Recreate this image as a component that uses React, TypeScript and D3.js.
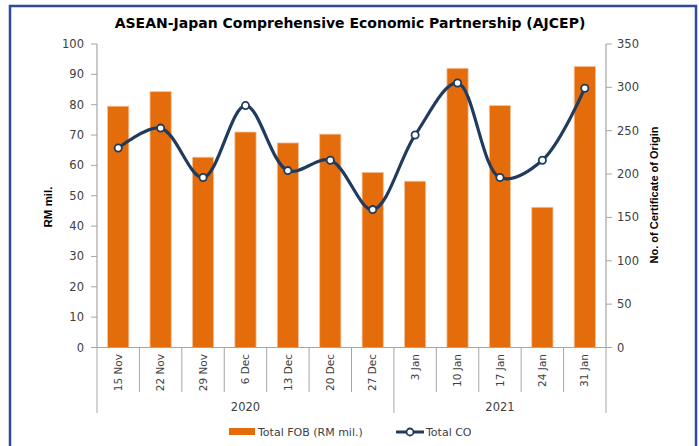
import React from "react";
import * as d3 from "d3";

const categories = ["15 Nov", "22 Nov", "29 Nov", "6 Dec", "13 Dec", "20 Dec", "27 Dec", "3 Jan", "10 Jan", "17 Jan", "24 Jan", "31 Jan"];
const fobValues = [79.5, 84.3, 62.7, 71.0, 67.4, 70.3, 57.7, 54.8, 92.0, 79.7, 46.2, 92.6];
const coValues = [230, 253, 196, 279, 204, 216, 159, 245, 305, 196, 216, 299];
const years = [
  { label: "2020", from: 0, to: 7 },
  { label: "2021", from: 7, to: 12 },
];
const leftTicks = [0, 10, 20, 30, 40, 50, 60, 70, 80, 90, 100];
const rightTicks = [0, 50, 100, 150, 200, 250, 300, 350];

const W = 699;
const H = 446;
const FONT = "'DejaVu Sans', sans-serif";
const TITLE_FONT = "'Liberation Sans', Arial, sans-serif";

export default function App() {
  const left = 97;
  const right = 606;
  const top = 44;
  const bottom = 347.5;

  const x = d3.scaleBand<string>().domain(categories).range([left, right]).paddingInner(0.5).paddingOuter(0.25);
  const step = x.step();
  const yL = d3.scaleLinear().domain([0, 100]).range([bottom, top]);
  const yR = d3.scaleLinear().domain([0, 350]).range([bottom, top]);
  const cx = (c: string) => (x(c) as number) + x.bandwidth() / 2;

  const line = d3
    .line<number>()
    .x((_, i) => cx(categories[i]))
    .y((d) => yR(d))
    .curve(d3.curveCatmullRom.alpha(0.5));

  const axisColor = "#A6A6A6";
  const textColor = "#404040";
  const navy = "#1F3B5E";
  const orange = "#E46C0A";

  const boundary = (i: number) => left + step * i;

  return (
    <svg width={W} height={H} style={{ position: "absolute", left: 0, top: 0, background: "#fff" }} fontFamily={FONT}>
      <rect x={0} y={0} width={W} height={H} fill="#fff" />
      <rect x={10} y={6} width={686} height={460} fill="none" stroke="#2F4A9C" strokeWidth={2.5} />
      <text x={350} y={28} textAnchor="middle" fontSize={14} fontWeight="bold" fill="#000">
        ASEAN-Japan Comprehensive Economic Partnership (AJCEP)
      </text>

      {/* bars */}
      {categories.map((c, i) => (
        <rect
          key={c}
          x={x(c)}
          y={yL(fobValues[i])}
          width={x.bandwidth()}
          height={bottom - yL(fobValues[i])}
          fill={orange}
          stroke="#F6C29B"
          strokeWidth={0.8}
        />
      ))}

      {/* left axis */}
      <line x1={left} x2={left} y1={top} y2={bottom} stroke={axisColor} strokeWidth={1.2} />
      {leftTicks.map((t) => (
        <g key={t}>
          <line x1={left - 6} x2={left} y1={yL(t)} y2={yL(t)} stroke={axisColor} strokeWidth={1} />
          <text x={84} y={yL(t)} dy="0.35em" textAnchor="end" fontSize={11.5} fill={textColor}>
            {t}
          </text>
        </g>
      ))}
      {/* right axis */}
      <line x1={right} x2={right} y1={top} y2={bottom} stroke={axisColor} strokeWidth={1.2} />
      {rightTicks.map((t) => (
        <g key={t}>
          <line x1={right} x2={right + 6} y1={yR(t)} y2={yR(t)} stroke={axisColor} strokeWidth={1} />
          <text x={617} y={yR(t)} dy="0.35em" textAnchor="start" fontSize={11.5} fill={textColor}>
            {t}
          </text>
        </g>
      ))}

      {/* category axis */}
      <line x1={left - 6} x2={right + 6} y1={bottom} y2={bottom} stroke={axisColor} strokeWidth={1.2} />
      {d3.range(1, 12).map((i) =>
        i === 7 ? null : (
          <line key={i} x1={boundary(i)} x2={boundary(i)} y1={bottom} y2={392} stroke={axisColor} strokeWidth={1} />
        )
      )}
      {[0, 7, 12].map((i) => (
        <line key={"g" + i} x1={boundary(i)} x2={boundary(i)} y1={bottom} y2={413} stroke={axisColor} strokeWidth={1} />
      ))}
      {categories.map((c) => (
        <text
          key={"l" + c}
          transform={`translate(${cx(c)},354) rotate(-90)`}
          textAnchor="end"
          dy="0.35em"
          fontSize={10.5}
          fill={textColor}
        >
          {c}
        </text>
      ))}
      {years.map((yr) => (
        <text
          key={yr.label}
          x={(boundary(yr.from) + boundary(yr.to)) / 2}
          y={407}
          dy="0.35em"
          textAnchor="middle"
          fontSize={11.5}
          fill={textColor}
        >
          {yr.label}
        </text>
      ))}

      {/* line */}
      <path d={line(coValues) || ""} fill="none" stroke={navy} strokeWidth={3.2} />
      {coValues.map((v, i) => (
        <circle key={"p" + i} cx={cx(categories[i])} cy={yR(v)} r={3.6} fill="#fff" stroke={navy} strokeWidth={1.8} />
      ))}

      {/* axis titles */}
      <text transform="translate(48,207) rotate(-90)" textAnchor="middle" dy="0.35em" fontSize={11.5} fontWeight="bold" fill="#000" fontFamily={TITLE_FONT}>
        RM mil.
      </text>
      <text transform="translate(654,195) rotate(-90)" textAnchor="middle" dy="0.35em" fontSize={11} fontWeight="bold" fill="#000" fontFamily={TITLE_FONT}>
        No. of Certificate of Origin
      </text>

      {/* legend */}
      <rect x={229} y={428} width={26} height={7} fill={orange} />
      <text x={258} y={432} dy="0.35em" fontSize={11} fill={textColor}>
        Total FOB (RM mil.)
      </text>
      <line x1={396} x2={424} y1={432} y2={432} stroke={navy} strokeWidth={3} />
      <circle cx={410} cy={432} r={3.5} fill="#fff" stroke={navy} strokeWidth={1.8} />
      <text x={426} y={432} dy="0.35em" fontSize={11} fill={textColor}>
        Total CO
      </text>
    </svg>
  );
}
